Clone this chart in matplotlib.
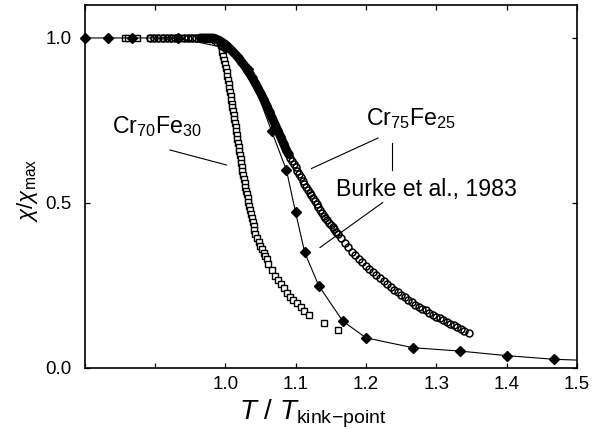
import matplotlib
matplotlib.use("Agg")
import matplotlib.pyplot as plt
from matplotlib.lines import Line2D

plt.rcParams['font.family'] = ['Liberation Sans', 'DejaVu Sans']
plt.rcParams['mathtext.fontset'] = 'custom'
plt.rcParams['mathtext.rm'] = 'Liberation Sans'
plt.rcParams['mathtext.it'] = 'Liberation Sans:italic'
plt.rcParams['mathtext.bf'] = 'Liberation Sans:bold'

# ---------------- data ----------------
# Burke et al., 1983 (filled diamonds, thin line)
burke_x = [0.800, 0.833, 0.867, 0.933, 1.000, 1.033, 1.066, 1.087, 1.100, 1.113,
           1.133, 1.167, 1.200, 1.267, 1.333, 1.400, 1.467, 1.533]
burke_y = [1.000, 1.000, 1.000, 1.000, 0.970, 0.905, 0.717, 0.599, 0.471, 0.349,
           0.248, 0.141, 0.090, 0.060, 0.050, 0.036, 0.025, 0.020]

# Cr70Fe30 (open squares)
cr70_x = [0.857, 0.862, 0.875, 0.893, 0.899, 0.906, 0.912, 0.918, 0.924, 0.940,
          0.946, 0.951, 0.956, 0.961, 0.966, 0.971, 0.976, 0.981, 0.985, 0.989,
          0.992, 0.994, 0.995, 0.996, 0.997, 0.9985, 1.0000, 1.0015, 1.0024, 1.0032,
          1.0041, 1.0050, 1.0059, 1.0068, 1.0077, 1.0085, 1.0094, 1.0103, 1.0112, 1.0121,
          1.0130, 1.0138, 1.0147, 1.0156, 1.0165, 1.0174, 1.0182, 1.0191, 1.0200, 1.0209,
          1.0218, 1.0227, 1.0235, 1.0245, 1.0255, 1.0266, 1.0276, 1.0287, 1.0298, 1.0308,
          1.0319, 1.0329, 1.0340, 1.0352, 1.0365, 1.0378, 1.0391, 1.0403, 1.0416, 1.0429,
          1.0450, 1.0476, 1.0500, 1.0524, 1.0548, 1.0570, 1.0591, 1.0612, 1.0661, 1.0708,
          1.0746, 1.0793, 1.0831, 1.0874, 1.0921, 1.0968, 1.1016, 1.1073, 1.1124, 1.1191,
          1.1404, 1.1607]
cr70_y = [1.000, 1.000, 1.000, 1.000, 1.000, 1.000, 1.000, 1.000, 1.000, 1.000,
          1.000, 1.000, 1.000, 1.000, 0.999, 0.999, 0.998, 0.996, 0.993, 0.989,
          0.984, 0.978, 0.969, 0.957, 0.945, 0.933, 0.921, 0.909, 0.897, 0.885,
          0.873, 0.861, 0.849, 0.837, 0.825, 0.813, 0.801, 0.789, 0.777, 0.765,
          0.753, 0.741, 0.729, 0.717, 0.705, 0.693, 0.681, 0.669, 0.657, 0.645,
          0.633, 0.621, 0.609, 0.597, 0.585, 0.573, 0.561, 0.549, 0.537, 0.525,
          0.513, 0.501, 0.489, 0.477, 0.465, 0.453, 0.441, 0.429, 0.417, 0.405,
          0.393, 0.381, 0.370, 0.359, 0.348, 0.338, 0.328, 0.315, 0.296, 0.279,
          0.266, 0.253, 0.240, 0.227, 0.215, 0.205, 0.195, 0.183, 0.171, 0.159,
          0.134, 0.114]

# Cr75Fe25 (open circles)
cr75_x = [0.893, 0.899, 0.905, 0.911, 0.917, 0.923, 0.929, 0.935, 0.941, 0.947,
          0.953, 0.959, 0.965, 0.970, 0.975, 0.979, 0.983, 0.987, 0.991, 0.995,
          0.999, 1.003, 1.007, 1.011, 1.015, 1.019, 1.023, 1.027, 1.031, 1.035,
          1.039, 1.043, 1.047, 1.051, 1.055, 1.059, 1.063, 1.067, 1.071, 1.075,
          1.079, 1.083, 1.087, 1.090, 1.0925, 1.095, 1.0975, 1.100, 1.1025, 1.105,
          1.1075, 1.110, 1.1125, 1.115, 1.1175, 1.120, 1.1225, 1.125, 1.1275, 1.130,
          1.1325, 1.135, 1.1375, 1.140, 1.1425, 1.145, 1.1475, 1.150, 1.1525, 1.155,
          1.1575, 1.160, 1.165, 1.170, 1.175, 1.180, 1.185, 1.190, 1.195, 1.200,
          1.205, 1.210, 1.215, 1.220, 1.225, 1.230, 1.235, 1.240, 1.245, 1.250,
          1.255, 1.260, 1.265, 1.270, 1.275, 1.280, 1.285, 1.290, 1.295, 1.300,
          1.305, 1.310, 1.315, 1.320, 1.325, 1.330, 1.335, 1.340, 1.346]
cr75_y = [1.000, 1.000, 1.000, 1.000, 1.000, 1.000, 1.000, 1.000, 1.000, 1.000,
          1.000, 1.000, 1.000, 1.000, 1.000, 1.000, 1.000, 0.997, 0.993, 0.988,
          0.982, 0.975, 0.967, 0.958, 0.949, 0.939, 0.928, 0.917, 0.904, 0.891,
          0.877, 0.862, 0.846, 0.830, 0.813, 0.794, 0.775, 0.756, 0.737, 0.718,
          0.699, 0.679, 0.660, 0.647, 0.637, 0.627, 0.617, 0.607, 0.597, 0.587,
          0.577, 0.567, 0.558, 0.549, 0.540, 0.531, 0.522, 0.513, 0.504, 0.495,
          0.486, 0.477, 0.469, 0.461, 0.454, 0.447, 0.440, 0.433, 0.426, 0.419,
          0.412, 0.405, 0.392, 0.378, 0.365, 0.351, 0.340, 0.329, 0.319, 0.308,
          0.298, 0.289, 0.280, 0.271, 0.262, 0.252, 0.244, 0.236, 0.229, 0.221,
          0.213, 0.206, 0.198, 0.191, 0.185, 0.179, 0.173, 0.166, 0.160, 0.154,
          0.149, 0.144, 0.138, 0.133, 0.128, 0.123, 0.117, 0.112, 0.106]

xticks = [0.8, 0.9, 1.0, 1.1, 1.2, 1.3, 1.4, 1.5]
xticklabels = ['', '', '1.0', '1.1', '1.2', '1.3', '1.4', '1.5']
yticks = [0.0, 0.5, 1.0]
yticklabels = ['0.0', '0.5', '1.0']

# ---------------- figure ----------------
W, H = 606, 432
fig = plt.figure(figsize=(W / 100, H / 100), dpi=100)
L, R, T, B = 84.5, 577, 5, 367.5
ax = fig.add_axes([L / W, 1 - B / H, (R - L) / W, (B - T) / H])
ax.set_xlim(0.8, 1.5)
ax.set_ylim(0.0, 1.1)


def fp(x, y):
    return x / W, 1 - y / H


# Cr70Fe30 squares
ax.plot(cr70_x, cr70_y, ls='none', marker='s', ms=4.0, mfc='white', mec='black',
        mew=1.0, zorder=3)

# Cr75Fe25 circles: dense band drawn as solid thick stroke
band = [(x, y) for x, y in zip(cr75_x, cr75_y) if 0.964 <= x <= 1.0905]
ax.plot([p[0] for p in band], [p[1] for p in band], color='black', lw=6.4,
        solid_capstyle='round', zorder=4)
ax.plot(cr75_x, cr75_y, ls='none', marker='o', ms=5.0, mfc='none', mec='black',
        mew=1.1, zorder=4)

# Burke et al. diamonds
ax.plot(burke_x, burke_y, color='black', lw=0.8, zorder=5)
inside = [(x, y) for x, y in zip(burke_x, burke_y) if x <= 1.5]
ax.plot([p[0] for p in inside], [p[1] for p in inside], ls='none', marker='D',
        ms=5.2, color='black', clip_on=False, zorder=6)

# axes styling
ax.set_xticks(xticks)
ax.set_xticklabels(xticklabels)
ax.set_yticks(yticks)
ax.set_yticklabels(yticklabels)
ax.tick_params(direction='in', length=3.5, width=0.9, top=True, right=True,
               labelsize=13.5, colors='black')
ax.tick_params(axis='x', pad=6)
ax.tick_params(axis='y', pad=9)
for s in ax.spines.values():
    s.set_linewidth(1.2)

# axis labels
fig.text(*fp(239, 419), r'$T\ /\ T_{\mathrm{kink\!-\!point}}$', fontsize=20,
         ha='left', va='baseline')
fig.text(*fp(27, 190), r'$\chi/\chi_{\mathrm{max}}$', fontsize=16, rotation=90,
         ha='center', va='center')

# annotations
fig.text(*fp(112, 133), r'Cr$_{70}$Fe$_{30}$', fontsize=16.7, ha='left',
         va='baseline')
fig.text(*fp(366, 125), r'Cr$_{75}$Fe$_{25}$', fontsize=16.7, ha='left',
         va='baseline')
fig.text(*fp(336, 196), 'Burke et al., 1983', fontsize=16.7, ha='left',
         va='baseline')

for (x0, y0), (x1, y1) in [((170, 150), (226.5, 165)),
                           ((378, 138), (311.5, 168.5)),
                           ((391.7, 142.5), (391.7, 170)),
                           ((382.7, 202.5), (320, 247.5))]:
    a, b = fp(x0, y0)
    c, d = fp(x1, y1)
    fig.add_artist(Line2D([a, c], [b, d], color='black', lw=0.8))

fig.savefig('out.png', dpi=100)
